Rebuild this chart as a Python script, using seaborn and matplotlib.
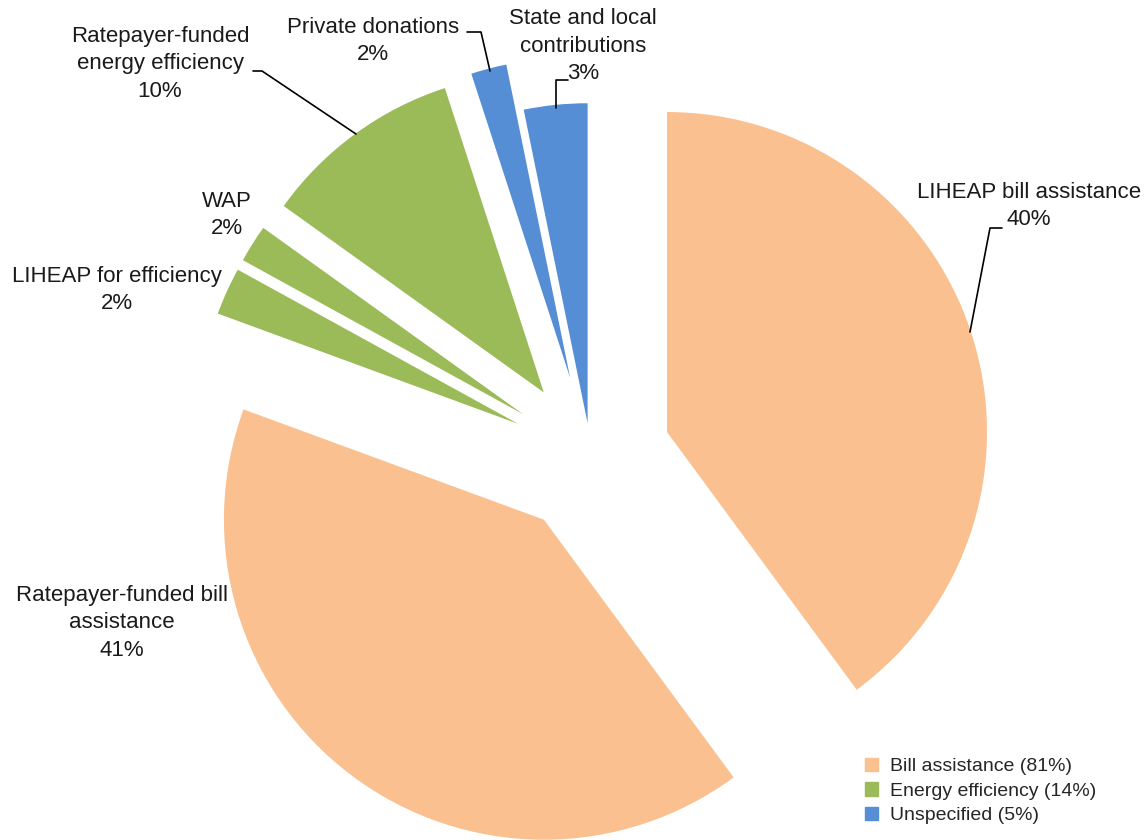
import matplotlib
matplotlib.use("Agg")
import matplotlib.pyplot as plt
import matplotlib.patches as mpatches
import seaborn as sns

# funding sources, clockwise from 12 o'clock
categories = ["LIHEAP bill assistance", "Ratepayer-funded bill\nassistance",
              "LIHEAP for efficiency", "WAP", "Ratepayer-funded\nenergy efficiency",
              "Private donations", "State and local\ncontributions"]
shares = [39.9, 40.7, 2.4, 1.9, 10.1, 1.8, 3.2]
groups = ["Bill assistance", "Bill assistance", "Energy efficiency", "Energy efficiency",
          "Energy efficiency", "Unspecified", "Unspecified"]
group_names = ["Bill assistance", "Energy efficiency", "Unspecified"]
group_labels = ["Bill assistance (81%)", "Energy efficiency (14%)", "Unspecified (5%)"]
group_colors = ["#FAC090", "#9BBB59", "#558ED5"]

sns.set_theme(style="white")
plt.rcParams["font.family"] = ["Liberation Sans", "DejaVu Sans"]

W, H = 1144, 840
CX, CY, R = 591, 457, 320   # pie centre and radius in pixels


def px(x, y):
    # pixel position (y down) -> data units of the pie
    return (x - CX) / R, (CY - y) / R


fig = plt.figure(figsize=(W / 100, H / 100), dpi=100)
ax = fig.add_axes([0, 0, 1, 1])

palette = dict(zip(group_names, group_colors))
colors = [palette[g] for g in groups]
explode = [0.25, 0.245, 0.25, 0.25, 0.25, 0.255, 0.106]

ax.pie(shares, colors=colors, startangle=90, counterclock=False,
       explode=explode, radius=1, center=(0, 0),
       wedgeprops=dict(linewidth=0))

# pie() resets the limits, so fix them afterwards
ax.set_xlim(-CX / R, (W - CX) / R)
ax.set_ylim(-(H - CY) / R, CY / R)
ax.set_aspect("equal")
ax.axis("off")

# data labels
label_pos = [(1029, 206), (122, 623), (117, 290), (227, 215),
             (160, 64), (373, 41), (583, 46)]
for name, share, (lx, ly) in zip(categories, shares, label_pos):
    x, y = px(lx, ly)
    ax.text(x, y, "%s\n%d%%" % (name, round(share)), ha="center", va="center",
            fontsize=16, linespacing=1.43, color="#1a1a1a")

# leader lines
leaders = [
    [(970, 332), (990, 228), (1002, 228)],
    [(253, 71), (262, 71), (356, 134)],
    [(467, 32), (481, 32), (490, 71)],
    [(568, 80), (556, 80), (556, 108)],
]
for pts in leaders:
    xy = [px(a, b) for a, b in pts]
    ax.plot([p[0] for p in xy], [p[1] for p in xy], color="black", lw=1.2)

handles = [mpatches.Patch(color=c, label=l) for c, l in zip(group_colors, group_labels)]
fig.legend(handles=handles, loc="upper left", bbox_to_anchor=(855 / W, 1 - 748 / H),
           frameon=False, fontsize=14, handlelength=0.7, handleheight=0.7,
           handletextpad=0.6, labelspacing=0.35, borderpad=0)

fig.savefig("out.png", dpi=100)
